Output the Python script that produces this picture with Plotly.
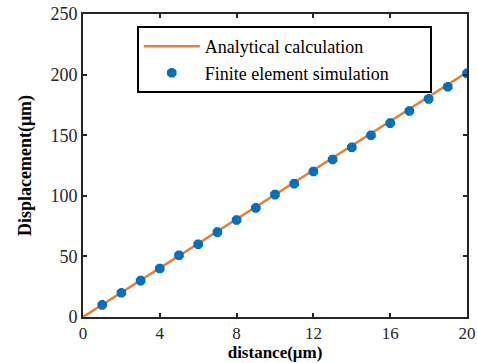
import plotly.graph_objects as go

line_x = [0, 20]
line_y = [0, 202]
fe_x = list(range(1, 21))
fe_y = [10, 20, 30, 40, 51, 60, 70, 80, 90, 101, 110, 120, 130, 140, 150, 160, 170, 180, 190, 201]
x_ticks = [0, 4, 8, 12, 16, 20]
y_ticks = [0, 50, 100, 150, 200, 250]

font = "Liberation Serif"
fig = go.Figure()
fig.add_trace(go.Scatter(x=line_x, y=line_y, mode="lines", name="Analytical calculation",
                         line=dict(color="#ED7D31", width=2.5)))
fig.add_trace(go.Scatter(x=fe_x, y=fe_y, mode="markers",
                         name="Finite element simulation" + "\u00a0" * 8,
                         marker=dict(symbol="asterisk-open", size=8, color="#0072BD",
                                     line=dict(color="#0072BD", width=4))))
axis_common = dict(showgrid=False, zeroline=False, showline=True, linecolor="#262626", linewidth=2,
                   mirror="ticks", ticks="inside", ticklen=4, tickwidth=2, tickcolor="#262626",
                   automargin=False)
fig.update_xaxes(range=[0, 20], tickvals=x_ticks,
                 tickfont=dict(family=font, size=17, color="#262626"),
                 title=dict(text="<b>distance(μm)</b>", font=dict(family=font, size=17, color="#000"), standoff=2),
                 **axis_common)
fig.update_yaxes(range=[0, 250], tickvals=y_ticks,
                 tickfont=dict(family=font, size=18, color="#262626"),
                 title=dict(text="<b>Displacement(μm)</b>", font=dict(family=font, size=18, color="#000"), standoff=14),
                 **axis_common)
fig.update_layout(width=477, height=363, margin=dict(l=83, r=10, t=14, b=46),
                  plot_bgcolor="white", paper_bgcolor="white",
                  font=dict(family=font, color="#000"),
                  legend=dict(x=0.14, y=0.96, xanchor="left", yanchor="top",
                              bordercolor="#000", borderwidth=2, bgcolor="white",
                              font=dict(family=font, size=18, color="#000"),
                              itemwidth=56, tracegroupgap=0))
fig.write_html("out.html", config={"displayModeBar": False},
               post_script="document.body.style.margin='0';document.body.style.padding='0';")
